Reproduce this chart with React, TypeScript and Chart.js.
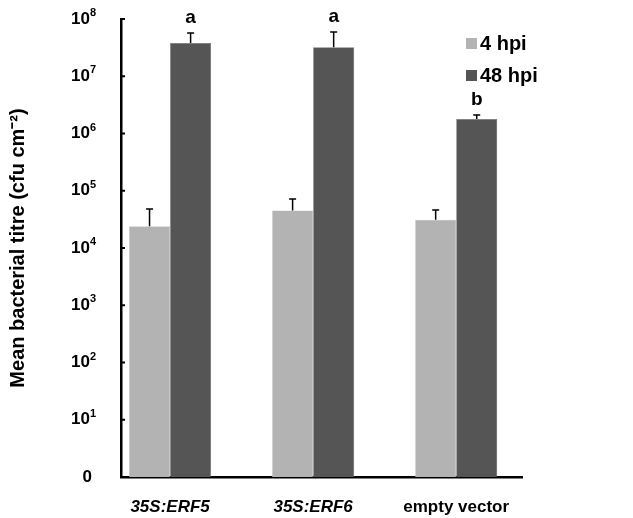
import React, { useEffect, useRef } from "react";
import { Chart, registerables } from "chart.js";
Chart.register(...registerables);

const categories = ["35S:ERF5", "35S:ERF6", "empty vector"];
const seriesNames = ["4 hpi", "48 hpi"];
const hpi4 = [2.4e4, 4.5e4, 3.1e4];
const hpi48 = [3.8e7, 3.2e7, 1.8e6];
const err4 = [4.8e4, 7.2e4, 4.6e4];
const err48 = [5.7e7, 5.9e7, 2.1e6];
const letters = ["a", "a", "b"];
const yTicks = [1, 1e1, 1e2, 1e3, 1e4, 1e5, 1e6, 1e7, 1e8];
const colors = ["#b3b3b3", "#555555"];
const FONT = "'Liberation Sans', Arial, sans-serif";

export default function App() {
  const ref = useRef<HTMLCanvasElement>(null);
  useEffect(() => {
    const overlay = {
      id: "overlay",
      afterDatasetsDraw(chart: any) {
        const ctx = chart.ctx;
        const y = chart.scales.y;
        ctx.save();
        ctx.strokeStyle = "#000";
        ctx.lineWidth = 2;
        ctx.fillStyle = "#000";
        ctx.textBaseline = "middle";
        yTicks.forEach((v, e) => {
          const py = y.getPixelForValue(v);
          ctx.beginPath();
          ctx.moveTo(chart.chartArea.left, py);
          ctx.lineTo(chart.chartArea.left + 4, py);
          ctx.stroke();
          if (e === 0) {
            ctx.font = `bold 17px ${FONT}`;
            ctx.textAlign = "right";
            ctx.fillText("0", 92, py);
          } else {
            ctx.font = `bold 11px ${FONT}`;
            ctx.textAlign = "left";
            ctx.fillText(String(e), 90, py - 6);
            ctx.font = `bold 17px ${FONT}`;
            ctx.textAlign = "right";
            ctx.fillText("10", 90, py);
          }
        });
        ctx.lineWidth = 1.5;
        const errs = [err4, err48];
        [0, 1].forEach((di) => {
          const meta = chart.getDatasetMeta(di);
          meta.data.forEach((bar: any, i: number) => {
            const top = y.getPixelForValue(errs[di][i]);
            ctx.beginPath();
            ctx.moveTo(bar.x, bar.y);
            ctx.lineTo(bar.x, top);
            ctx.moveTo(bar.x - 3.5, top);
            ctx.lineTo(bar.x + 3.5, top);
            ctx.stroke();
            if (di === 1) {
              ctx.font = `bold 19px ${FONT}`;
              ctx.textAlign = "center";
              ctx.fillText(letters[i], bar.x, top - 15);
            }
          });
        });
        ctx.font = `bold 20px ${FONT}`;
        ctx.textAlign = "left";
        seriesNames.forEach((n, i) => {
          const cy = 44 + i * 32;
          ctx.fillStyle = colors[i];
          ctx.fillRect(466, cy - 6, 11, 11);
          ctx.fillStyle = "#000";
          ctx.fillText(n, 480, cy);
        });
        ctx.restore();
      },
    };
    const chart = new Chart(ref.current!, {
      type: "bar",
      data: {
        datasets: [
          {
            label: seriesNames[0],
            data: hpi4.map((v, i) => ({ x: i, y: v })),
            backgroundColor: colors[0],
            borderColor: "#c4c4c4",
            borderWidth: 0.5,
            barPercentage: 1,
            categoryPercentage: 0.574,
          },
          {
            label: seriesNames[1],
            data: hpi48.map((v, i) => ({ x: i, y: v })),
            backgroundColor: colors[1],
            borderColor: "#6a6a6a",
            borderWidth: 0.5,
            barPercentage: 1,
            categoryPercentage: 0.574,
          },
        ],
      },
      plugins: [overlay],
      options: {
        animation: false,
        responsive: false,
        layout: { padding: { top: 19, right: 111, left: 0, bottom: 0 } },
        plugins: { legend: { display: false }, tooltip: { enabled: false } },
        scales: {
          x: {
            type: "linear",
            offset: false,
            min: -0.343,
            max: 2.46,
            grid: { display: false },
            border: { color: "#000", width: 2.5 },
            afterBuildTicks: (s: any) => {
              s.ticks = [0, 1, 2].map((v) => ({ value: v }));
            },
            afterFit: (s: any) => {
              s.height = 41;
            },
            ticks: {
              color: "#000",
              padding: 12,
              autoSkip: false,
              maxRotation: 0,
              callback: (v: any) => categories[Math.round(v)] ?? "",
              font: (c: any) => ({
                family: FONT,
                size: 17,
                weight: "bold",
                style: c.index < 2 ? "italic" : "normal",
              }),
            },
          },
          y: {
            type: "logarithmic",
            min: 1,
            max: 1e8,
            grid: { display: false },
            border: { color: "#000", width: 2.5 },
            afterBuildTicks: (s: any) => {
              s.ticks = yTicks.map((v) => ({ value: v }));
            },
            afterFit: (s: any) => {
              s.width = 121;
            },
            title: {
              display: true,
              text: "Mean bacterial titre (cfu cm⁻²)",
              color: "#000",
              font: { family: FONT, size: 20, weight: "bold" },
              padding: { top: 6, bottom: 0 },
            },
            ticks: {
              color: "#000",
              callback: () => "",
            },
          },
        },
      },
    } as any);
    return () => chart.destroy();
  }, []);
  return (
    <div style={{ position: "fixed", left: 0, top: 0, width: 633, height: 518, background: "#fff" }}>
      <canvas ref={ref} width={633} height={518} style={{ width: 633, height: 518 }} />
    </div>
  );
}
